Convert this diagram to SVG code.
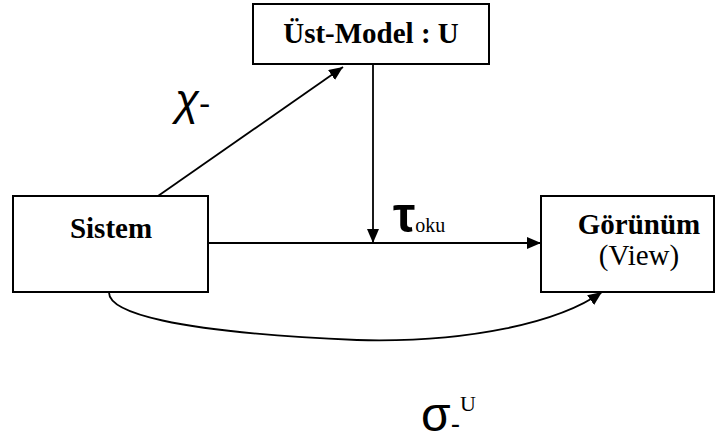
<svg xmlns="http://www.w3.org/2000/svg" width="726" height="441" viewBox="0 0 726 441">
<style>
.box{fill:#fff;stroke:#000;stroke-width:2}
.lbl{font-family:"Liberation Serif","Times New Roman",serif;font-size:29px;fill:#000;text-anchor:middle}
.b{font-weight:bold}
.gr{font-family:"Liberation Sans",Arial,sans-serif;fill:#000}
.sub{font-family:"Liberation Serif","Times New Roman",serif;fill:#000}
.conn{fill:none;stroke:#000;stroke-width:1.8}
</style>
<defs>
<marker id="ah" markerUnits="userSpaceOnUse" markerWidth="16" markerHeight="14" refX="14" refY="6" orient="auto">
<path d="M0,0 L14,6 L0,12 z" fill="#000"/>
</marker>
</defs>
<g id="connectors">
<line class="conn" x1="158" y1="196" x2="343" y2="67" marker-end="url(#ah)"/>
<line class="conn" x1="373" y1="64" x2="373" y2="243" marker-end="url(#ah)"/>
<line class="conn" x1="208" y1="243" x2="541" y2="243" marker-end="url(#ah)"/>
<path class="conn" d="M109,292 C108,312 170,332 357,340 C470,343 560,322 602,292" marker-end="url(#ah)"/>
</g>
<g id="ust-model">
<rect class="box" x="253" y="4" width="236" height="60"/>
<text class="lbl b" x="371" y="43">Üst-Model : U</text>
</g>
<g id="sistem">
<rect class="box" x="13" y="196" width="195" height="96"/>
<text class="lbl b" x="111" y="238">Sistem</text>
</g>
<g id="gorunum">
<rect class="box" x="541" y="196" width="173" height="96"/>
<text class="lbl b" x="639" y="234">Görünüm</text>
<text class="lbl" x="639" y="265">(View)</text>
</g>
<g id="labels">
<text class="gr" x="175" y="115" font-size="44" font-style="italic">χ<tspan font-size="34" font-style="normal">-</tspan></text>
<text class="gr" x="393" y="232" font-size="50" font-weight="bold">τ<tspan class="sub" font-size="20" font-weight="normal">oku</tspan></text>
<text class="gr" x="421" y="431" font-size="48">σ<tspan font-size="28" dy="2">-</tspan><tspan class="sub" font-size="22" dy="-22">U</tspan></text>
</g>
</svg>
